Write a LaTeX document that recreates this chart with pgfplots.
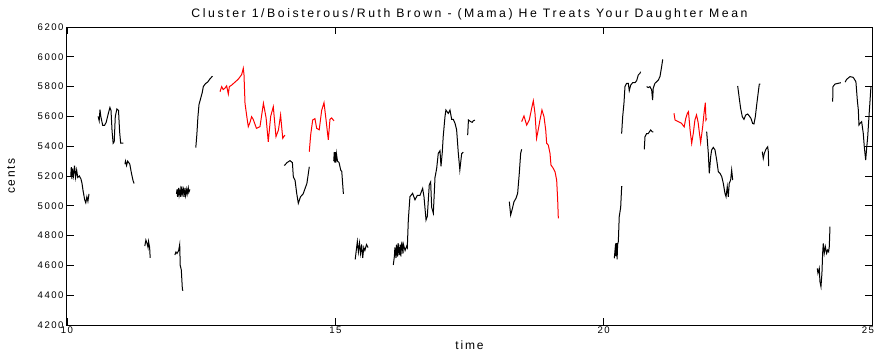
\documentclass[border=0pt]{standalone}
\usepackage{fontspec}
\setmainfont{Liberation Sans}
\newfontfamily\tickfont[LetterSpace=15]{Liberation Sans}
\newfontfamily\labfont[LetterSpace=15]{Liberation Sans}
\newfontfamily\titfont[LetterSpace=21]{Liberation Sans}
\usepackage{pgfplots}
\pgfplotsset{compat=1.18}
\begin{document}
\begin{tikzpicture}
\begin{axis}[
  scale only axis,
  width=603.75pt, height=223.5pt,
  xmin=10, xmax=25, ymin=4200, ymax=6200,
  xtick={10,15,20}, ytick={4200,4400,...,6200},
  extra x ticks={25},
  extra x tick style={xticklabel style={xshift=-3pt}},
  tick align=inside, xtick pos=both, ytick pos=both,
  major tick length=5pt,
  /pgf/number format/assume math mode=true,
  /pgf/number format/1000 sep={},
  ticklabel style={font=\tickfont\fontsize{7.2}{8}\selectfont},
  xticklabel style={inner sep=1pt},
  yticklabel style={inner sep=2.5pt},
  axis line style={black, line width=0.75pt},
  tick style={black, line width=0.6pt},
  title={Cluster 1/Boisterous/Ruth Brown - (Mama) He Treats Your Daughter Mean},
  title style={font=\titfont\fontsize{9.2}{10}\selectfont, yshift=-4pt},
  xlabel={time}, ylabel={cents},
  xlabel style={font=\labfont\fontsize{9}{10}\selectfont, yshift=-1pt},
  ylabel style={font=\labfont\fontsize{9}{10}\selectfont, yshift=11pt},
  every axis plot/.append style={line width=0.75pt},
]
% black segments
\addplot[black] coordinates {(10.07,5200) (10.08,5260) (10.09,5180) (10.10,5250) (10.12,5200) (10.14,5270) (10.16,5190) (10.18,5240) (10.20,5190) (10.23,5200) (10.26,5180) (10.28,5150) (10.30,5100) (10.33,5040) (10.35,5020) (10.37,5060) (10.39,5030) (10.41,5080)};
\addplot[black] coordinates {(10.58,5600) (10.60,5570) (10.615,5645) (10.63,5600) (10.665,5540) (10.70,5540) (10.73,5560) (10.77,5620) (10.80,5660) (10.82,5640) (10.84,5500) (10.86,5420) (10.88,5430) (10.90,5600) (10.93,5650) (10.96,5640) (10.98,5500) (11.00,5420) (11.05,5420)};
\addplot[black] coordinates {(11.08,5280) (11.09,5300) (11.11,5270) (11.13,5300) (11.15,5290) (11.17,5280) (11.20,5220) (11.23,5170) (11.25,5150)};
\addplot[black] coordinates {(11.45,4730) (11.47,4770) (11.49,4750) (11.51,4720) (11.52,4760) (11.54,4720) (11.55,4650)};
\addplot[black] coordinates {(12.04,5080) (12.05,5110) (12.06,5060) (12.08,5120) (12.09,5070) (12.11,5110) (12.12,5060) (12.14,5130) (12.15,5080) (12.17,5110) (12.18,5060) (12.20,5120) (12.21,5070) (12.23,5110) (12.24,5080) (12.26,5120) (12.27,5090) (12.29,5110)};
\addplot[black] coordinates {(12.01,4670) (12.03,4690) (12.05,4680) (12.08,4700) (12.10,4740) (12.11,4600) (12.13,4570) (12.15,4440) (12.16,4430)};
\addplot[black] coordinates {(12.40,5390) (12.42,5480) (12.44,5600) (12.46,5680) (12.49,5720) (12.52,5760) (12.54,5800) (12.58,5820) (12.62,5830) (12.66,5850) (12.71,5870)};
\addplot[black] coordinates {(14.05,5270) (14.10,5290) (14.155,5303) (14.20,5290) (14.217,5195) (14.25,5170) (14.28,5084) (14.31,5017) (14.35,5060) (14.40,5080) (14.47,5150) (14.515,5262)};
\addplot[black] coordinates {(14.97,5300) (14.98,5360) (14.99,5290) (15.00,5360) (15.01,5290) (15.02,5350) (15.04,5300) (15.07,5290) (15.10,5240) (15.12,5230) (15.15,5080)};
\addplot[black] coordinates {(15.37,4640) (15.39,4700) (15.41,4760) (15.43,4690) (15.45,4750) (15.47,4680) (15.49,4740) (15.51,4650) (15.53,4720) (15.55,4700) (15.58,4740) (15.61,4720)};
\addplot[black] coordinates {(16.08,4603) (16.10,4660) (16.11,4720) (16.13,4650) (16.14,4740) (16.16,4660) (16.17,4750) (16.19,4670) (16.21,4740) (16.22,4660) (16.24,4760) (16.26,4680) (16.27,4740) (16.30,4700) (16.33,4730) (16.341,4720) (16.36,4905) (16.39,5061) (16.44,5084) (16.484,5040) (16.527,5070) (16.577,5070) (16.627,5117) (16.652,5060) (16.69,4905) (16.714,4930) (16.75,5140) (16.776,5160) (16.795,4990) (16.826,4950) (16.857,5190) (16.888,5250) (16.918,5352) (16.95,5370) (16.969,5265) (16.993,5360) (17.01,5464) (17.043,5598) (17.06,5643) (17.105,5620) (17.136,5643) (17.168,5580) (17.198,5580) (17.23,5554) (17.26,5510) (17.29,5360) (17.32,5240) (17.354,5350) (17.384,5360)};
\addplot[black] coordinates {(17.466,5475) (17.48,5576) (17.52,5565) (17.55,5560) (17.57,5570) (17.60,5576)};
\addplot[black] coordinates {(18.242,5028) (18.267,4938) (18.298,4980) (18.329,5028) (18.366,5050) (18.397,5084) (18.428,5220) (18.453,5352) (18.472,5379)};
\addplot[black] coordinates {(20.198,4648) (20.223,4748) (20.23,4660) (20.242,4750) (20.25,4640) (20.26,4740) (20.273,4760) (20.29,4927) (20.317,4990) (20.335,5128) (20.35,5128)};
\addplot[black] coordinates {(20.335,5485) (20.354,5598) (20.378,5688) (20.397,5800) (20.428,5822) (20.459,5822) (20.477,5772) (20.503,5810) (20.54,5826) (20.583,5826) (20.615,5840) (20.645,5878) (20.677,5890) (20.689,5900)};
\addplot[black] coordinates {(20.80,5800) (20.831,5794) (20.862,5800) (20.894,5778) (20.912,5710) (20.924,5790) (20.955,5822) (20.987,5833) (21.018,5844) (21.049,5867) (21.08,5934) (21.10,5983)};
\addplot[black] coordinates {(20.757,5379) (20.77,5464) (20.80,5485) (20.831,5485) (20.875,5509) (20.905,5497) (20.924,5497)};
\addplot[black] coordinates {(21.919,5498) (21.95,5352) (21.968,5218) (21.994,5330) (22.012,5375) (22.043,5392) (22.074,5375) (22.106,5307) (22.136,5229) (22.167,5218) (22.2,5196) (22.229,5151) (22.26,5084) (22.28,5061) (22.303,5129) (22.322,5061) (22.34,5151) (22.366,5173) (22.385,5240) (22.404,5173)};
\addplot[black] coordinates {(22.497,5804) (22.527,5721) (22.552,5654) (22.583,5598) (22.614,5580) (22.646,5609) (22.683,5616) (22.713,5603) (22.744,5587) (22.776,5553) (22.80,5549) (22.826,5598) (22.851,5677) (22.882,5766) (22.90,5817) (22.92,5817)};
\addplot[black] coordinates {(22.955,5363) (22.974,5318) (22.993,5352) (23.024,5380) (23.056,5396) (23.068,5363) (23.074,5267)};
\addplot[black] coordinates {(23.98,4580) (23.993,4547) (24.017,4580) (24.03,4491) (24.049,4457) (24.067,4547) (24.08,4681) (24.092,4748) (24.11,4681) (24.13,4726) (24.155,4681) (24.173,4703) (24.192,4692) (24.204,4726) (24.217,4860)};
\addplot[black] coordinates {(24.267,5699) (24.273,5800) (24.31,5817) (24.37,5822) (24.42,5826)};
\addplot[black] coordinates {(24.50,5830) (24.528,5849) (24.59,5867) (24.65,5862) (24.70,5833) (24.726,5710) (24.745,5643) (24.757,5542) (24.776,5553) (24.807,5565) (24.837,5486) (24.856,5397) (24.882,5307) (24.90,5386) (24.92,5464) (24.943,5598) (24.96,5688) (24.98,5800)};
% red segments
\addplot[red] coordinates {(12.851,5766) (12.882,5800) (12.91,5780) (12.944,5790) (12.975,5805) (13.006,5750) (13.025,5800) (13.068,5810) (13.13,5830) (13.192,5850) (13.254,5880) (13.285,5923) (13.298,5880) (13.317,5688) (13.35,5600) (13.378,5531) (13.41,5560) (13.44,5598) (13.47,5580) (13.53,5520) (13.596,5531) (13.66,5688) (13.71,5590) (13.75,5430) (13.795,5600) (13.844,5665) (13.894,5464) (13.94,5509) (13.98,5609) (14.02,5453) (14.06,5475)};
\addplot[red] coordinates {(14.515,5363) (14.54,5475) (14.578,5576) (14.62,5585) (14.652,5520) (14.70,5510) (14.745,5640) (14.789,5692) (14.826,5580) (14.869,5442) (14.90,5580) (14.93,5590) (14.975,5570)};
\addplot[red] coordinates {(18.472,5565) (18.515,5603) (18.565,5542) (18.614,5576) (18.658,5654) (18.689,5705) (18.72,5621) (18.75,5453) (18.78,5509) (18.813,5576) (18.85,5643) (18.888,5598) (18.92,5509) (18.938,5419) (18.968,5408) (19.0,5352) (19.018,5274) (19.06,5252) (19.093,5229) (19.124,5173) (19.143,5039) (19.155,4916)};
\addplot[red] coordinates {(21.31,5621) (21.33,5576) (21.39,5565) (21.45,5554) (21.50,5530) (21.53,5587) (21.56,5621) (21.58,5632) (21.61,5509) (21.64,5419) (21.67,5487) (21.70,5576) (21.73,5610) (21.76,5560) (21.78,5500) (21.807,5424) (21.845,5531) (21.87,5621) (21.894,5692) (21.906,5576) (21.919,5587)};
\end{axis}
\pgfresetboundingbox
\path ([xshift=-50.25pt,yshift=-19.5pt]current axis.south west) rectangle ([xshift=3pt,yshift=20.25pt]current axis.north east);
\end{tikzpicture}
\end{document}
